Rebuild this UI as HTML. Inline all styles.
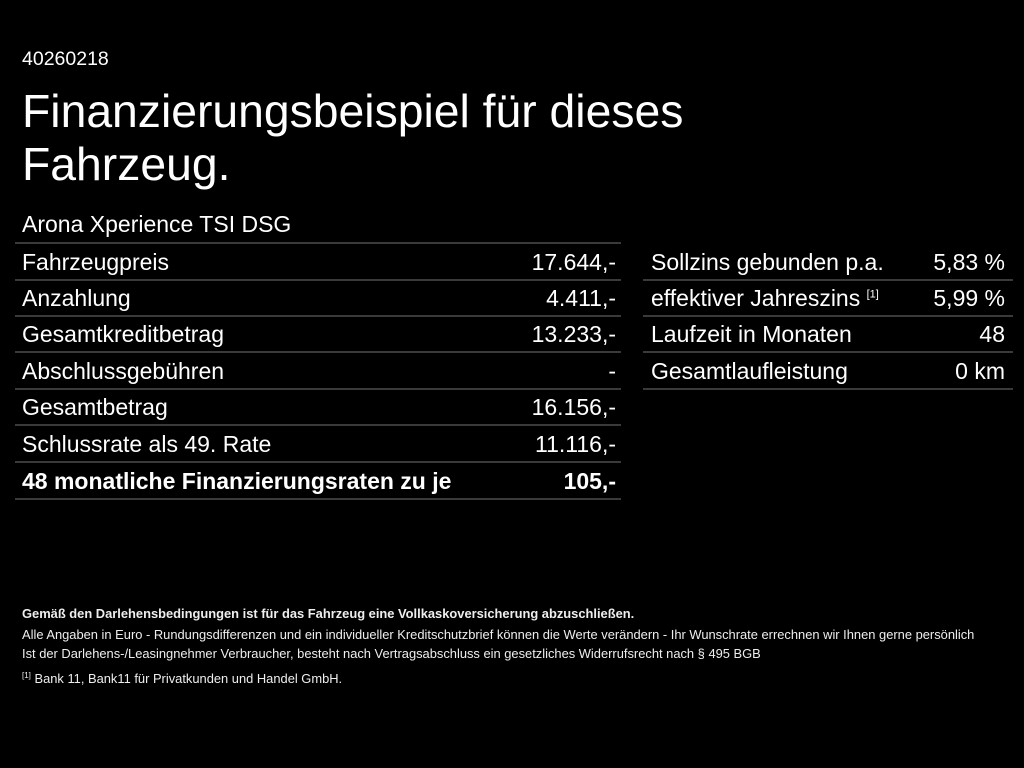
<!DOCTYPE html>
<html><head><meta charset="utf-8"><style>
body{margin:0;width:1024px;height:768px;background:#000;color:#fff;font-family:"Liberation Sans",sans-serif;position:relative;overflow:hidden}
.a{position:absolute;white-space:nowrap}
.l{position:absolute;height:2px;background:#3a3a3a}
.r{position:absolute;font-size:23px;line-height:24px;white-space:nowrap}
.v{text-align:right}
.f{position:absolute;left:22px;font-size:12.9px;color:#eee;white-space:nowrap}
sup{line-height:0}
</style></head><body>
<div class="a" style="left:22px;top:48px;font-size:19.5px">40260218</div>
<div class="a" style="left:22px;top:85px;font-size:46.3px;line-height:53px">Finanzierungsbeispiel für dieses<br>Fahrzeug.</div>
<div class="a" style="left:22px;top:211px;font-size:23px">Arona Xperience TSI DSG</div>

<div class="l" style="left:15px;width:606px;top:242px"></div>
<div class="l" style="left:15px;width:606px;top:279px"></div>
<div class="l" style="left:15px;width:606px;top:315px"></div>
<div class="l" style="left:15px;width:606px;top:351px"></div>
<div class="l" style="left:15px;width:606px;top:388px"></div>
<div class="l" style="left:15px;width:606px;top:424px"></div>
<div class="l" style="left:15px;width:606px;top:461px"></div>
<div class="l" style="left:15px;width:606px;top:498px"></div>

<div class="l" style="left:643px;width:370px;top:279px"></div>
<div class="l" style="left:643px;width:370px;top:315px"></div>
<div class="l" style="left:643px;width:370px;top:351px"></div>
<div class="l" style="left:643px;width:370px;top:388px"></div>

<div class="r" style="left:22px;top:250px">Fahrzeugpreis</div><div class="r v" style="right:408px;top:250px">17.644,-</div>
<div class="r" style="left:22px;top:286px">Anzahlung</div><div class="r v" style="right:408px;top:286px">4.411,-</div>
<div class="r" style="left:22px;top:322px">Gesamtkreditbetrag</div><div class="r v" style="right:408px;top:322px">13.233,-</div>
<div class="r" style="left:22px;top:359px">Abschlussgebühren</div><div class="r v" style="right:408px;top:359px">-</div>
<div class="r" style="left:22px;top:395px">Gesamtbetrag</div><div class="r v" style="right:408px;top:395px">16.156,-</div>
<div class="r" style="left:22px;top:432px">Schlussrate als 49. Rate</div><div class="r v" style="right:408px;top:432px">11.116,-</div>
<div class="r" style="left:22px;top:469px;font-weight:bold">48 monatliche Finanzierungsraten zu je</div><div class="r v" style="right:408px;top:469px;font-weight:bold">105,-</div>

<div class="r" style="left:651px;top:250px">Sollzins gebunden p.a.</div><div class="r v" style="right:19px;top:250px">5,83 %</div>
<div class="r" style="left:651px;top:286px">effektiver Jahreszins <sup style="font-size:11px">[1]</sup></div><div class="r v" style="right:19px;top:286px">5,99 %</div>
<div class="r" style="left:651px;top:322px">Laufzeit in Monaten</div><div class="r v" style="right:19px;top:322px">48</div>
<div class="r" style="left:651px;top:359px">Gesamtlaufleistung</div><div class="r v" style="right:19px;top:359px">0 km</div>

<div class="f" style="top:606px;font-weight:bold">Gemäß den Darlehensbedingungen ist für das Fahrzeug eine Vollkaskoversicherung abzuschließen.</div>
<div class="f" style="top:627px">Alle Angaben in Euro - Rundungsdifferenzen und ein individueller Kreditschutzbrief können die Werte verändern - Ihr Wunschrate errechnen wir Ihnen gerne persönlich</div>
<div class="f" style="top:646px">Ist der Darlehens-/Leasingnehmer Verbraucher, besteht nach Vertragsabschluss ein gesetzliches Widerrufsrecht nach § 495 BGB</div>
<div class="f" style="top:671px"><span style="font-size:8px;vertical-align:top">[1]</span> Bank 11, Bank11 für Privatkunden und Handel GmbH.</div>
</body></html>
